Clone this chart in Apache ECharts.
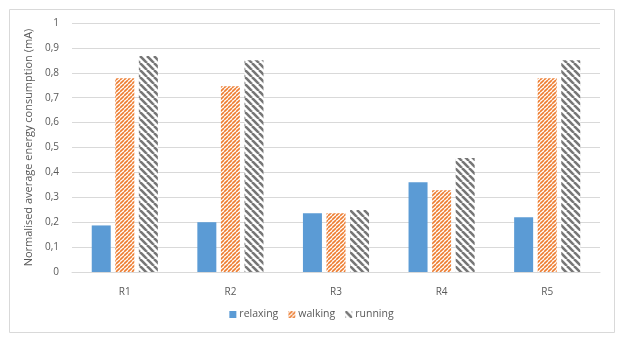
<!DOCTYPE html>
<html>
<head>
<meta charset="utf-8">
<script src="https://cdn.jsdelivr.net/npm/echarts@6/dist/echarts.min.js"></script>
<style>
html,body{margin:0;padding:0;background:#fff;}
#chart{width:623px;height:342px;}
</style>
</head>
<body>
<div id="chart"></div>
<script>
// chart data
var categories = ["R1", "R2", "R3", "R4", "R5"];
var relaxing = [0.187, 0.2, 0.236, 0.36, 0.22];
var walking = [0.778, 0.746, 0.236, 0.328, 0.778];
var running = [0.867, 0.85, 0.249, 0.458, 0.85];
var yTicks = [0, 0.1, 0.2, 0.3, 0.4, 0.5, 0.6, 0.7, 0.8, 0.9, 1];

// build a hatch pattern tile
function makeHatch(size, color, lineW, dir) {
    var c = document.createElement("canvas");
    c.width = size;
    c.height = size;
    var ctx = c.getContext("2d");
    ctx.fillStyle = "#fff";
    ctx.fillRect(0, 0, size, size);
    ctx.strokeStyle = color;
    ctx.lineWidth = lineW;
    for (var k = -1; k <= 1; k++) {
        ctx.beginPath();
        if (dir == "/") {
            ctx.moveTo(k * size, size);
            ctx.lineTo(k * size + size, 0);
        } else {
            ctx.moveTo(k * size, 0);
            ctx.lineTo(k * size + size, size);
        }
        ctx.stroke();
    }
    return c;
}

var walkFill = {image: makeHatch(4, "#ED7D31", 1.6, "/"), repeat: "repeat"};
var runFill = {image: makeHatch(7, "#767676", 2.6, "\\"), repeat: "repeat"};

var myChart = echarts.init(document.getElementById("chart"));
var axisText = {color: "#595959", fontFamily: "Open Sans", fontSize: 10};

var option = {
    animation: false,
    graphic: [{
        type: "rect",
        shape: {x: 9.5, y: 9.5, width: 605, height: 323},
        style: {fill: "none", stroke: "#D9D9D9", lineWidth: 1}
    }],
    grid: {left: 72, right: 23, top: 23, bottom: 70},
    legend: {
        bottom: 17,
        left: "center",
        itemWidth: 7,
        itemHeight: 7,
        itemGap: 10,
        icon: "rect",
        textStyle: {color: "#595959", fontFamily: "Open Sans", fontSize: 10.5, padding: [0, 0, 0, -2]},
        data: ["relaxing", "walking", "running"]
    },
    xAxis: {
        type: "category",
        data: categories,
        axisLine: {lineStyle: {color: "#D9D9D9"}},
        axisTick: {show: false},
        axisLabel: Object.assign({margin: 15}, axisText)
    },
    yAxis: {
        type: "value",
        min: 0,
        max: 1,
        interval: 0.1,
        name: "Normalised average energy consumption (mA)",
        nameLocation: "middle",
        nameGap: 36,
        nameTextStyle: {color: "#595959", fontFamily: "Open Sans", fontSize: 11},
        axisLine: {show: false},
        axisTick: {show: false},
        splitLine: {lineStyle: {color: "#D9D9D9"}},
        axisLabel: Object.assign({
            margin: 13,
            formatter: function (v) {
                var t = yTicks.find(function (x) { return Math.abs(x - v) < 1e-6; });
                return String(t === undefined ? v : t).replace(".", ",");
            }
        }, axisText)
    },
    series: [
        {name: "relaxing", type: "bar", data: relaxing, barWidth: 19, barGap: "24%",
            itemStyle: {color: "#5B9BD5"}},
        {name: "walking", type: "bar", data: walking, barWidth: 19,
            itemStyle: {color: walkFill}},
        {name: "running", type: "bar", data: running, barWidth: 19,
            itemStyle: {color: runFill}}
    ]
};
myChart.setOption(option);
</script>
</body>
</html>
